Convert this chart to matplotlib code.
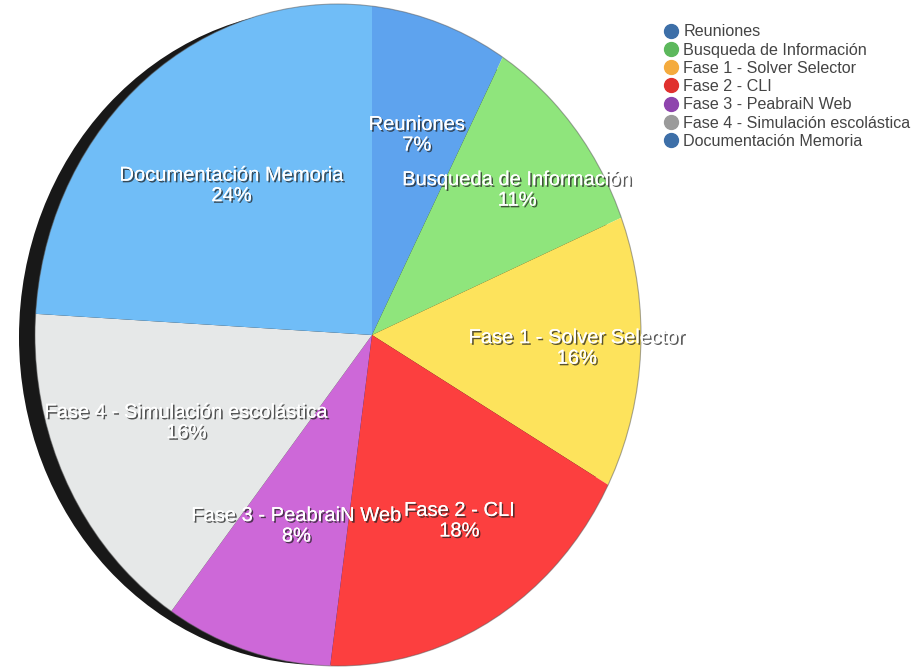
import numpy as np
import matplotlib.pyplot as plt
import matplotlib.patheffects as pe
from matplotlib.patches import Ellipse
from matplotlib.lines import Line2D

labels = ['Reuniones', 'Busqueda de Información', 'Fase 1 - Solver Selector',
          'Fase 2 - CLI', 'Fase 3 - PeabraiN Web', 'Fase 4 - Simulación escolástica',
          'Documentación Memoria']
percent = [7, 11, 16, 18, 8, 16, 24]

slice_colors = ['#5ea3ee', '#8fe57c', '#fde35c', '#fc3f3f', '#cd68d8', '#e6e8e8', '#70bdf7']
legend_colors = ['#3d6fa8', '#5cb85c', '#f4ab3e', '#e0302e', '#8e44ad', '#9a9a9a', '#3d6fa8']

plt.rcParams['font.family'] = ['Liberation Sans', 'DejaVu Sans']

fig = plt.figure(figsize=(9.17, 6.71), dpi=100)
ax = fig.add_axes([0, 0, 1, 1])

# tilted disc: the face outline, and the pie centre sits off the outline centre
face = Ellipse((338, 336), 606, 662, transform=ax.transData)
rim = Ellipse((322, 334), 606, 656, facecolor='#181818', edgecolor='none', zorder=0)
ax.add_patch(rim)

cx, cy, rad = 372, 336, 360
wedges, _ = ax.pie(percent, colors=slice_colors, startangle=90, counterclock=False,
                   radius=rad, center=(cx, cy), frame=True,
                   wedgeprops=dict(linewidth=0))
for w in wedges:
    w.set_clip_on(True)
    w.set_clip_path(face)
ax.set_xlim(0, 917)
ax.set_ylim(0, 671)
ax.axis('off')

outline = Ellipse((338, 336), 606, 662, facecolor='none', edgecolor='#555555',
                  linewidth=0.8, alpha=0.5, zorder=3)
ax.add_patch(outline)

shadow = [pe.withSimplePatchShadow(offset=(1.2, -1.2), shadow_rgbFace='#222222', alpha=0.75),
          pe.Normal()]
for w, name, p in zip(wedges, labels, percent):
    mid = np.deg2rad((w.theta1 + w.theta2) / 2)
    r = 0.57 * rad
    ax.text(cx + r * np.cos(mid), cy + r * np.sin(mid), f'{name}\n{p}%',
            ha='center', va='center', color='white', fontsize=14.5,
            linespacing=1.1, path_effects=shadow, zorder=5)

handles = [Line2D([], [], marker='o', linestyle='none', markersize=10,
                  markerfacecolor=c, markeredgecolor=c) for c in legend_colors]
fig.legend(handles, labels, loc='upper left', bbox_to_anchor=(656 / 917, 1 - 18 / 671),
           frameon=False, fontsize=11.6, handletextpad=0.3, labelspacing=0.2,
           handlelength=1.0, borderaxespad=0, labelcolor='#444444')

fig.savefig('out.png', dpi=100)
